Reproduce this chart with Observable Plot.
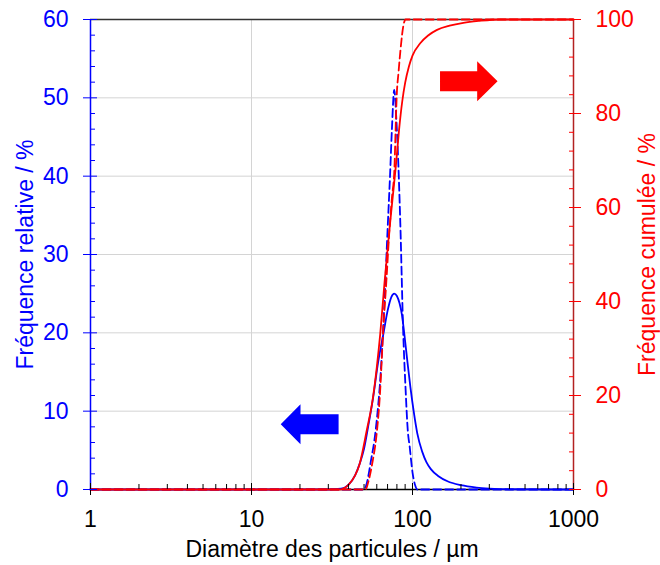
<!DOCTYPE html>
<html>
<head>
<meta charset="utf-8">
<script src="https://cdn.jsdelivr.net/npm/d3@7"></script>
<script src="https://cdn.jsdelivr.net/npm/@observablehq/plot@0.6"></script>
<style>
  body { margin: 0; background: #fff; }
  svg { display: block; }
</style>
</head>
<body>
<div id="chart"></div>
<script>
// ---- Data ----
// Relative frequency, solid blue (left axis, %)
const dBlueSolid = [1, 30, 36, 40, 44, 47, 50, 53, 57, 61, 66, 70, 74, 77, 80, 83, 86, 89, 93, 97, 102, 107, 115, 122, 130, 145, 165, 200, 250, 300, 400, 1000];
const fBlueSolid = [0, 0, 0.1, 0.6, 1.8, 3.3, 5.2, 8.0, 11.8, 16.1, 19.9, 22.8, 24.6, 25.0, 24.7, 23.8, 22.3, 19.8, 16.3, 13.1, 9.8, 7.2, 4.8, 3.5, 2.6, 1.7, 1.05, 0.55, 0.25, 0.12, 0.03, 0];
// Relative frequency, dashed blue (left axis, %)
const dBlueDash = [1, 50, 52, 55, 59, 64, 67, 70, 72.5, 74.5, 77, 79.5, 81.5, 84, 87.5, 90.5, 93.5, 96, 100, 104, 107, 1000];
const fBlueDash = [0, 0, 0.8, 3.5, 7.5, 16.1, 24, 33.1, 40, 46, 51, 47, 42, 34, 20.3, 13, 7.5, 5.5, 2.2, 0.5, 0, 0];
// Cumulative frequency, solid red (right axis, %)
const dRedSolid = [1, 35, 40, 44, 47, 52, 56.5, 60, 63, 67, 71.3, 75, 78.9, 82.5, 86.3, 90, 95, 100, 112, 125, 142, 170, 207, 260, 350, 1000];
const fRedSolid = [0, 0, 1, 3, 5.5, 12.6, 19, 26, 33, 44, 54, 61.5, 69, 76.5, 82.5, 86.5, 90, 92.3, 95, 96.6, 97.8, 98.7, 99.3, 99.7, 100, 100];
// Cumulative frequency, dashed red (right axis, %)
const dRedDash = [1, 51, 53.5, 56.2, 59.5, 62.6, 65.8, 69, 71.9, 74.5, 77.3, 78.4, 79.6, 82, 84.2, 87.9, 90.5, 1000];
const fRedDash = [0, 0, 2, 5.5, 11, 19.6, 33.9, 45, 55.2, 62, 68.6, 75.7, 82.9, 89, 93.5, 98.8, 100, 100];

// Tick values
const xMajor = [1, 10, 100, 1000];
const xMinor = [2,3,4,5,6,7,8,9,20,30,40,50,60,70,80,90,200,300,400,500,600,700,800,900];
const yLeftMajor = [0, 10, 20, 30, 40, 50, 60];
const yLeftMinor = [2,4,6,8,12,14,16,18,22,24,26,28,32,34,36,38,42,44,46,48,52,54,56,58];
const yRightMajor = [0, 20, 40, 60, 80, 100];
const yRightMinor = [4,8,12,16,24,28,32,36,44,48,52,56,64,68,72,76,84,88,92,96];

// Text
const xTitle = "Diamètre des particules / µm";
const yLeftTitle = "Fréquence relative / %";
const yRightTitle = "Fréquence cumulée / %";

// Arrow annotations (data units: x in µm, y in left-axis %)
const leftArrow = {tip: 15.3, base: 20.3, end: 35.0, y: 8.27, shaft: 1.28, head: 2.56};
const rightArrow = {tip: 340, base: 254, end: 149.3, y: 52.05, shaft: 1.28, head: 2.56};

// ---- Build ----
const K = 60 / 100; // right axis (0–100) mapped to left axis (0–60)
const BLUE = "#0000ff", RED = "#ff0000";
const pts = (xs, ys, k = 1) => xs.map((x, i) => ({x, y: ys[i] * k}));
const arrowPts = a => [
  {x: a.tip, lo: a.y, hi: a.y},
  {x: a.base, lo: a.y - a.head, hi: a.y + a.head},
  {x: a.base, lo: a.y - a.shaft, hi: a.y + a.shaft},
  {x: a.end, lo: a.y - a.shaft, hi: a.y + a.shaft}
];

const plot = Plot.plot({
  width: 660,
  height: 565,
  marginLeft: 90,
  marginRight: 87,
  marginTop: 19,
  marginBottom: 76,
  style: {fontFamily: "'Liberation Sans', Arial, sans-serif", fontSize: "23px", background: "#fff", color: "#000"},
  x: {type: "log", domain: [1, 1000]},
  y: {domain: [0, 60]},
  marks: [
    // grid
    Plot.gridX([10, 100], {stroke: "#d4d4d4", strokeOpacity: 1, strokeWidth: 1}),
    Plot.gridY([10, 20, 30, 40, 50], {stroke: "#d4d4d4", strokeOpacity: 1, strokeWidth: 1}),
    // frame lines
    Plot.ruleY([60], {stroke: "#333", strokeWidth: 1.5}),
    Plot.ruleY([0], {stroke: "#000", strokeWidth: 1.5}),
    Plot.ruleX([1], {stroke: BLUE, strokeWidth: 1.5}),
    Plot.ruleX([1000], {stroke: "#b22222", strokeWidth: 1.5}),
    // arrows
    Plot.areaY(arrowPts(leftArrow), {x: "x", y1: "lo", y2: "hi", fill: BLUE, curve: "linear"}),
    Plot.areaY(arrowPts(rightArrow), {x: "x", y1: "lo", y2: "hi", fill: RED, curve: "linear"}),
    // data lines
    Plot.line(pts(dBlueSolid, fBlueSolid), {x: "x", y: "y", stroke: BLUE, strokeWidth: 1.8, curve: "monotone-x"}),
    Plot.line(pts(dBlueDash, fBlueDash), {x: "x", y: "y", stroke: BLUE, strokeWidth: 1.8, strokeDasharray: "8,4", curve: "monotone-x"}),
    Plot.line(pts(dRedSolid, fRedSolid, K), {x: "x", y: "y", stroke: RED, strokeWidth: 1.8, curve: "monotone-x"}),
    Plot.line(pts(dRedDash, fRedDash, K), {x: "x", y: "y", stroke: RED, strokeWidth: 1.8, strokeDasharray: "8,4", curve: "monotone-x"}),
    // x axis ticks
    Plot.axisX(xMajor, {tickSize: 12, dy: -6, fill: "none", stroke: "#000", label: null}),
    Plot.axisX(xMinor, {tickSize: 5, dy: -5, fill: "none", stroke: "#000", label: null}),
    Plot.axisX(xMajor, {tickSize: 0, tickPadding: 21, tickFormat: d => String(d), fill: "#000", label: null}),
    // left axis
    Plot.axisY(yLeftMajor, {anchor: "left", tickSize: 14, dx: 7, fill: "none", stroke: BLUE, label: null}),
    Plot.axisY(yLeftMinor, {anchor: "left", tickSize: 5, dx: 5, fill: "none", stroke: BLUE, label: null}),
    Plot.axisY(yLeftMajor, {anchor: "left", tickSize: 0, tickPadding: 22, tickFormat: d => String(d), fill: BLUE, label: null}),
    // right axis
    Plot.axisY(yRightMajor.map(v => v * K), {anchor: "right", tickSize: 12, dx: -5, fill: "none", stroke: RED, label: null}),
    Plot.axisY(yRightMinor.map(v => v * K), {anchor: "right", tickSize: 5, dx: -5, fill: "none", stroke: RED, label: null}),
    Plot.axisY(yRightMajor.map(v => v * K), {anchor: "right", tickSize: 0, tickPadding: 22, tickFormat: d => String(Math.round(d / K)), fill: RED, label: null}),
    // axis titles
    Plot.text([xTitle], {frameAnchor: "bottom", dy: 60, fill: "#000", textAnchor: "middle", lineAnchor: "middle"}),
    Plot.text([yLeftTitle], {frameAnchor: "left", dx: -65, rotate: -90, fill: BLUE, textAnchor: "middle", lineAnchor: "middle"}),
    Plot.text([yRightTitle], {frameAnchor: "right", dx: 74, rotate: -90, fill: RED, textAnchor: "middle", lineAnchor: "middle"})
  ]
});
document.getElementById("chart").appendChild(plot);
</script>
</body>
</html>
